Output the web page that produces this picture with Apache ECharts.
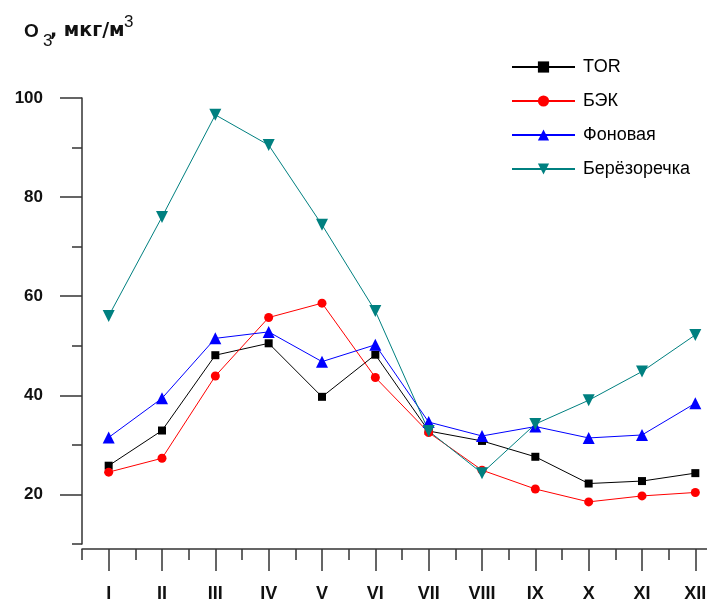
<!DOCTYPE html>
<html><head><meta charset="utf-8">
<script src="https://cdn.jsdelivr.net/npm/echarts@6/dist/echarts.min.js"></script>
<style>html,body{margin:0;padding:0;background:#fff}#c{width:707px;height:603px}</style>
</head><body><div id="c"></div>
<script>
const categories = ['I','II','III','IV','V','VI','VII','VIII','IX','X','XI','XII'];
const seriesNames = ['TOR','БЭК','Фоновая','Берёзоречка'];
const torValues = [25.8,32.9,48.1,50.5,39.7,48.2,32.8,30.8,27.6,22.2,22.7,24.3];
const bekValues = [24.5,27.3,43.9,55.7,58.6,43.6,32.5,24.9,21.1,18.5,19.7,20.4];
const fonValues = [31.5,39.4,51.5,52.8,46.8,50.2,34.6,31.8,33.7,31.4,32.0,38.4];
const berValues = [56.0,76.0,96.6,90.5,74.4,57.0,32.8,24.3,34.2,39.0,44.8,52.2];
const yMajorTicks = [20,40,60,80,100];
const yMin = 10, yMax = 100, yStep = 10;

const chart = echarts.init(document.getElementById('c'), null, {renderer:'canvas'});
const axisCol = '#333';
const font = 'Arial, "Liberation Sans", sans-serif';
const wfont = '"DejaVu Sans", sans-serif';

function mk(name, data, color, symbol, size, rot) {
  return {
    name, type:'line', data, xAxisIndex:0, yAxisIndex:0,
    symbol, symbolSize:size, symbolRotate:rot||0, showAllSymbol:true,
    lineStyle:{color, width:1}, itemStyle:{color, borderWidth:0},
    emphasis:{disabled:true}, animation:false
  };
}

chart.setOption({
  backgroundColor:'#fff',
  animation:false,
  grid:{left:82, right:-15, top:98, bottom:59, containLabel:false, outerBoundsMode:'none'},
  legend:{
    orient:'vertical', left:506, top:53,
    itemWidth:63, itemHeight:14, itemGap:16,
    textStyle:{fontSize:18, color:'#000', fontFamily:font, padding:[0,0,0,3]},
    data:seriesNames
  },
  graphic:[
    {type:'text', style:{text:'O', x:24, y:32, font:'bold 19px '+font, fill:'#111', verticalAlign:'middle'}},
    {type:'text', style:{text:'3', x:43, y:41, font:'17px '+font, fill:'#111', verticalAlign:'middle'}},
    {type:'text', style:{text:', мкг/м', x:50, y:31, font:'bold 19px '+wfont, fill:'#111', verticalAlign:'middle'}},
    {type:'text', style:{text:'3', x:124, y:22, font:'17px '+font, fill:'#111', verticalAlign:'middle'}}
  ],
  xAxis:[
    {type:'category', data:categories, boundaryGap:true, position:'bottom', offset:5,
     axisLine:{show:true, lineStyle:{color:axisCol, width:1.5}},
     axisTick:{show:true, alignWithLabel:true, length:22, lineStyle:{color:axisCol, width:1.5}},
     axisLabel:{show:true, margin:36, fontSize:18, fontWeight:'bold', color:'#111', fontFamily:font, interval:0},
     splitLine:{show:false}},
    {type:'category', data:categories, boundaryGap:true, position:'bottom', offset:5,
     axisLine:{show:false},
     axisTick:{show:true, alignWithLabel:false, length:11, interval:0, lineStyle:{color:axisCol, width:1.5}},
     axisLabel:{show:false}, splitLine:{show:false}}
  ],
  yAxis:[
    {type:'value', min:yMin, max:yMax, interval:yStep, position:'left',
     axisLine:{show:true, lineStyle:{color:axisCol, width:1.5}},
     axisTick:{show:true, length:22, customValues:yMajorTicks, lineStyle:{color:axisCol, width:1.5}},
     axisLabel:{show:true, margin:39, customValues:yMajorTicks, fontSize:17, fontWeight:'bold', color:'#111', fontFamily:font},
     splitLine:{show:false}},
    {type:'value', min:yMin, max:yMax, interval:yStep, position:'left',
     axisLine:{show:false},
     axisTick:{show:true, length:10, lineStyle:{color:axisCol, width:1.5}},
     axisLabel:{show:false}, splitLine:{show:false}}
  ],
  series:[
    mk(seriesNames[0], torValues, '#000000', 'rect', 8),
    mk(seriesNames[1], bekValues, '#ff0000', 'circle', 9),
    mk(seriesNames[2], fonValues, '#0000ff', 'triangle', 12),
    mk(seriesNames[3], berValues, '#008080', 'triangle', 12, 180)
  ]
});
</script></body></html>
